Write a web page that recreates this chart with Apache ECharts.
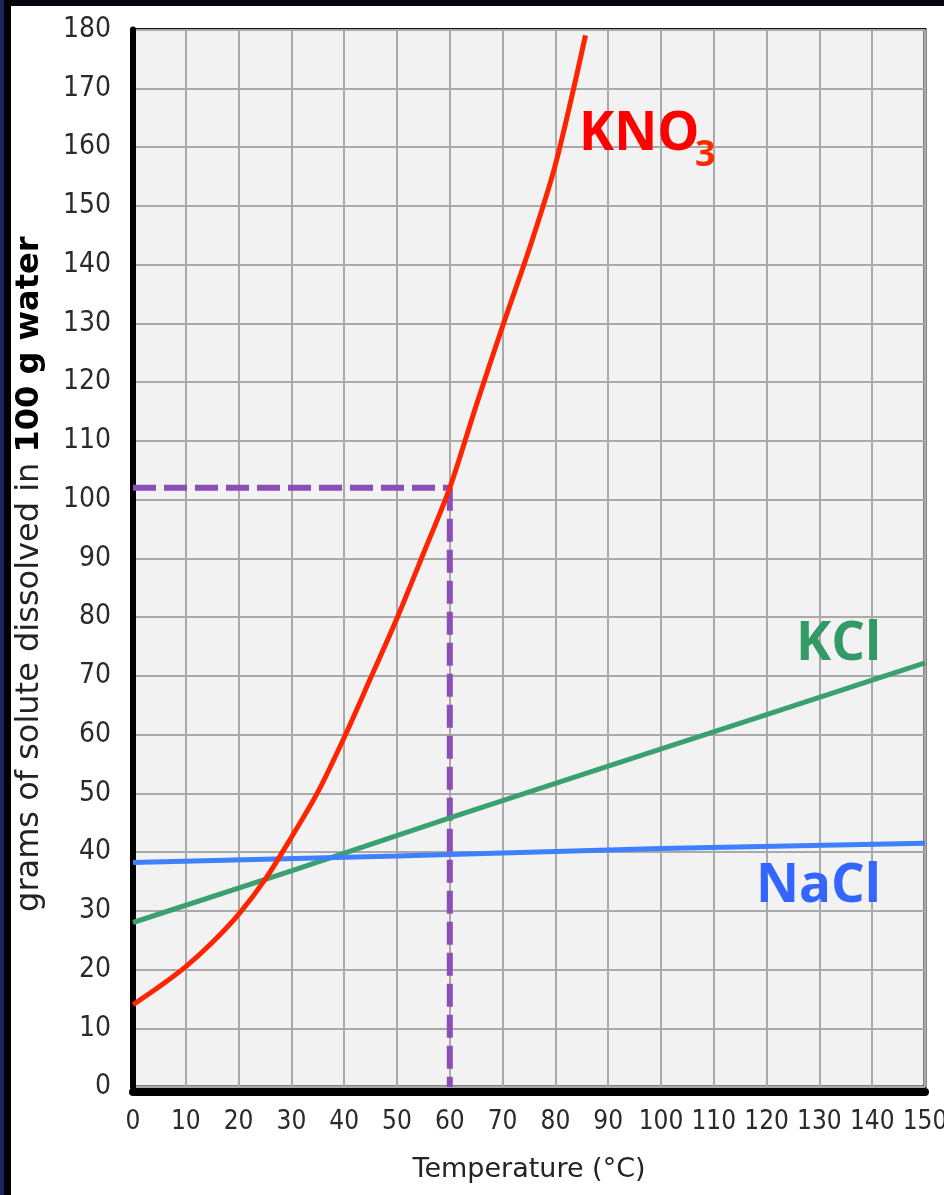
<!DOCTYPE html>
<html>
<head>
<meta charset="utf-8">
<script src="https://cdn.jsdelivr.net/npm/echarts@6/dist/echarts.min.js"></script>
<style>
  html, body { margin: 0; padding: 0; background: #ffffff; }
  #chart { position: absolute; left: 0; top: 0; width: 944px; height: 1195px; }
  .edge { position: absolute; z-index: 5; }
</style>
</head>
<body>
<div id="chart"></div>
<div class="edge" style="left:0;top:0;width:944px;height:6px;background:#05050f;"></div>
<div class="edge" style="left:0;top:0;width:4px;height:1195px;background:#1d2260;"></div>
<div class="edge" style="left:4px;top:0;width:7px;height:1195px;background:#000000;"></div>
<script>
// Solubility curves (temperature °C, grams per 100 g water)
const kno3 = [[0,14],[5,17.1],[10,20.5],[15,24.6],[20,29.4],[25,35.3],[30,42.5],[35,50.2],[40,59.5],[45,69.6],[50,79.8],[55,90.8],[60,102],[65,116],[70,129.5],[75,142.5],[80,157],[85.7,179]];
const kcl = [[0,28],[30,36.8],[60,45.8],[90,54.6],[120,63.4],[150,72.2]];
const nacl = [[0,38.2],[50,39.3],[100,40.6],[150,41.5]];
const guideH = [[0,102],[60,102]];
const guideV = [[60,102],[60,0]];
const xTicks = [0,10,20,30,40,50,60,70,80,90,100,110,120,130,140,150];
const yTicks = [0,10,20,30,40,50,60,70,80,90,100,110,120,130,140,150,160,170,180];
const xName = 'Temperature (°C)';
const yNamePlain = 'grams of solute dissolved in ';
const yNameBold = '100 g water';

const tickFont = "'Liberation Sans Narrow', 'Noto Sans Condensed', 'Noto Sans ExtraCondensed', 'DejaVu Sans Condensed', sans-serif";
const titleFont = "'DejaVu Sans', sans-serif";
const labelFont = "'Open Sans', 'Noto Sans', sans-serif";

const chart = echarts.init(document.getElementById('chart'), null, {renderer: 'canvas'});
chart.setOption({
  animation: false,
  backgroundColor: 'transparent',
  grid: {
    left: 133, right: 19, top: 29.5, bottom: 108,
    outerBoundsMode: 'none', containLabel: false,
    show: true, backgroundColor: '#f2f2f2', borderColor: '#111', borderWidth: 3
  },
  xAxis: {
    type: 'value', min: xTicks[0], max: xTicks[xTicks.length-1], interval: 10,
    offset: 5,
    name: xName, nameLocation: 'middle', nameGap: 64,
    nameTextStyle: {fontFamily: titleFont, fontSize: 27, color: '#222'},
    axisLine: {show: true, onZero: false, lineStyle: {color: '#000', width: 8}},
    axisTick: {show: false},
    splitLine: {show: true, lineStyle: {color: '#a9a9a9', width: 2}},
    axisLabel: {
      fontFamily: tickFont, fontSize: 26, fontWeight: 300, color: '#2a2a2a', margin: 17,
      showMinLabel: true, showMaxLabel: true, hideOverlap: false,
      formatter: v => xTicks.includes(v) ? String(v) : ''
    }
  },
  yAxis: {
    type: 'value', min: yTicks[0], max: yTicks[yTicks.length-1], interval: 10,
    name: '{a|' + yNamePlain + '}{b|' + yNameBold + '}',
    nameLocation: 'middle', nameGap: 87, nameRotate: 90,
    nameTextStyle: {
      padding: [0, 32, 0, 0],
      rich: {
        a: {fontFamily: titleFont, fontSize: 32, color: '#222'},
        b: {fontFamily: titleFont, fontSize: 32, fontWeight: 'bold', color: '#000'}
      }
    },
    axisLine: {show: true, onZero: false, lineStyle: {color: '#000', width: 6}},
    axisTick: {show: false},
    splitLine: {show: true, lineStyle: {color: '#a9a9a9', width: 2}},
    axisLabel: {
      fontFamily: tickFont, fontSize: 28, fontWeight: 300, color: '#2a2a2a', margin: 22,
      padding: [0, 0, 8, 0],
      showMinLabel: true, showMaxLabel: true,
      formatter: v => yTicks.includes(v) ? String(v) : ''
    }
  },
  series: [
    {type: 'line', data: guideH, symbol: 'none', z: 2,
     lineStyle: {color: '#8b4db8', width: 6, type: [23, 8], cap: 'butt'}},
    {type: 'line', data: guideV, symbol: 'none', z: 2,
     lineStyle: {color: '#8b4db8', width: 6, type: [23, 8], cap: 'butt'}},
    {type: 'line', name: 'KCl', data: kcl, symbol: 'none', z: 3,
     lineStyle: {color: '#3aa070', width: 5}},
    {type: 'line', name: 'NaCl', data: nacl, symbol: 'none', z: 4,
     lineStyle: {color: '#3f80ff', width: 5}},
    {type: 'line', name: 'KNO3', data: kno3, symbol: 'none', z: 5, smooth: 0.3,
     lineStyle: {color: '#ff2400', width: 5}}
  ],
  graphic: [
    {type: 'text', left: 579, top: 108, z: 10,
     style: {text: 'KNO', fontFamily: labelFont, fontSize: 53, fontWeight: 'bold', fill: '#ff0000'}},
    {type: 'text', left: 695, top: 138, z: 10,
     style: {text: '3', fontFamily: labelFont, fontSize: 36, fontWeight: 'bold', fill: '#ff2a00'}},
    {type: 'text', left: 796, top: 618, z: 10,
     style: {text: 'KCl', fontFamily: labelFont, fontSize: 53, fontWeight: 'bold', fill: '#339966'}},
    {type: 'text', left: 756, top: 860, z: 10,
     style: {text: 'NaCl', fontFamily: labelFont, fontSize: 53, fontWeight: 'bold', fill: '#3366ff'}}
  ]
});
</script>
</body>
</html>
